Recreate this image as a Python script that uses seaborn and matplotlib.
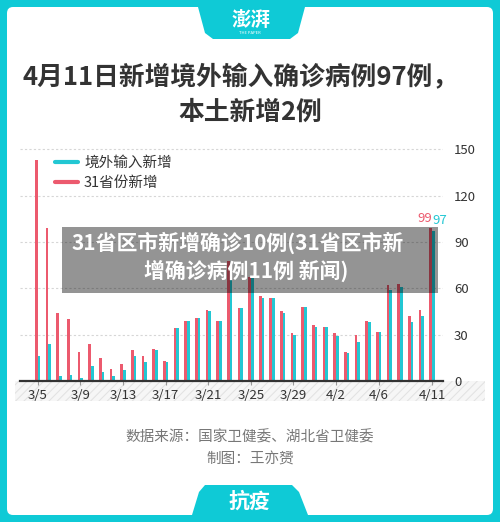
import pandas as pd
import matplotlib
matplotlib.use("Agg")
import matplotlib.pyplot as plt
import seaborn as sns
from matplotlib.patches import Rectangle, Polygon, FancyBboxPatch
from matplotlib.lines import Line2D

# daily new cases, 3/5 .. 4/11
dates = ["3/5", "3/6", "3/7", "3/8", "3/9", "3/10", "3/11", "3/12", "3/13", "3/14",
         "3/15", "3/16", "3/17", "3/18", "3/19", "3/20", "3/21", "3/22", "3/23", "3/24",
         "3/25", "3/26", "3/27", "3/28", "3/29", "3/30", "3/31", "4/1", "4/2", "4/3",
         "4/4", "4/5", "4/6", "4/7", "4/8", "4/9", "4/10", "4/11"]
province_new = [143, 99, 44, 40, 19, 24, 15, 8, 11, 20,
                16, 21, 13, 34, 39, 41, 46, 39, 78, 47,
                67, 55, 54, 45, 31, 48, 36, 35, 31, 19,
                30, 39, 32, 62, 63, 42, 46, 99]
imported_new = [16, 24, 3, 4, 2, 10, 6, 3, 7, 16,
                12, 20, 12, 34, 39, 41, 45, 39, 74, 47,
                67, 54, 54, 44, 30, 48, 35, 35, 29, 18,
                25, 38, 32, 59, 61, 38, 42, 97]
tick_labels = ["3/5", "3/9", "3/13", "3/17", "3/21", "3/25", "3/29", "4/2", "4/6", "4/11"]
y_ticks = [0, 30, 60, 90, 120, 150]

S_PROV = "31省份新增"
S_IMP = "境外输入新增"

TEAL = "#0fcad6"
RED = "#ec5a6e"
CYAN = "#22c7d3"

sns.set_theme(style="white")
plt.rcParams["font.family"] = ["Noto Sans CJK SC", "DejaVu Sans"]
plt.rcParams["hatch.linewidth"] = 0.8

df = pd.DataFrame({
    "date": dates * 2,
    "value": province_new + imported_new,
    "series": [S_PROV] * len(dates) + [S_IMP] * len(dates),
})


def fx(px):
    return px / 500


def fy(py):
    return 1 - py / 522


fig = plt.figure(figsize=(5, 5.22), dpi=100)
fig.patch.set_facecolor(TEAL)

# white card + tabs
fig.add_artist(FancyBboxPatch((fx(7), fy(515)), fx(493) - fx(7), fy(7) - fy(515),
                              boxstyle="round,pad=0,rounding_size=0.012",
                              transform=fig.transFigure, fc="white", ec="none", zorder=-3))
top_tab = [(198, 7), (305, 7), (298, 33), (290, 39), (213, 39), (205, 33)]
fig.add_artist(Polygon([(fx(x), fy(y)) for x, y in top_tab], closed=True,
                       transform=fig.transFigure, fc=TEAL, ec="none", zorder=-2))
bot_tab = [(205, 485), (292, 485), (299, 492), (308, 515), (192, 515), (199, 492)]
fig.add_artist(Polygon([(fx(x), fy(y)) for x, y in bot_tab], closed=True,
                       transform=fig.transFigure, fc=TEAL, ec="none", zorder=-2))
fig.text(fx(251), fy(20), "澎湃", color="white", fontsize=14, fontweight="bold",
         ha="center", va="center", style="italic")
fig.text(fx(250), fy(33), "THE PAPER", color="white", fontsize=3, ha="center", va="center")
fig.text(fx(249), fy(501), "抗疫", color="white", fontsize=15, fontweight="bold",
         ha="center", va="center")

# title
fig.text(fx(241), fy(78), "4月11日新增境外输入确诊病例97例，", color="#333333",
         fontsize=18.5, fontweight="bold", ha="center", va="center")
fig.text(fx(250), fy(112), "本土新增2例", color="#333333",
         fontsize=18.5, fontweight="bold", ha="center", va="center")

# hatched strip under the x axis
fig.add_artist(Rectangle((fx(15), fy(401)), fx(485) - fx(15), (401 - 381) / 522,
                         transform=fig.transFigure, fc="#f6f6f6", ec="#e3e3e3",
                         hatch="////", lw=0, zorder=-1))

ax = fig.add_axes([fx(20), fy(381), fx(443) - fx(20), (381 - 140) / 522])
ax.set_facecolor("none")
sns.barplot(data=df, x="date", y="value", hue="series", order=dates,
            hue_order=[S_PROV, S_IMP], palette=[RED, CYAN], width=0.5,
            saturation=1, legend=False, ax=ax, zorder=2,
            edgecolor="none", linewidth=0)

ax.set_xlim(-1.66, len(dates) - 1 + 1.03)
ax.set_ylim(0, 156)
ax.set_xlabel("")
ax.set_ylabel("")

ax.yaxis.tick_right()
ax.set_yticks(y_ticks)
ax.set_yticklabels([str(v) for v in y_ticks])
ax.tick_params(axis="y", length=0, pad=8, labelsize=9.5, labelcolor="#333333")
ax.grid(axis="y", color="#d6d6d6", lw=0.8, ls=(0, (2, 2)))
ax.set_axisbelow(True)

ax.set_xticks([dates.index(t) for t in tick_labels])
ax.set_xticklabels(tick_labels)
ax.tick_params(axis="x", bottom=True, length=3, width=0.8, color="#999999",
               pad=3, labelsize=9.5, labelcolor="#333333")

for side in ["left", "right", "top"]:
    ax.spines[side].set_visible(False)
ax.spines["bottom"].set_color("#333333")
ax.spines["bottom"].set_linewidth(1.6)

last = len(dates) - 1
ax.text(last, province_new[-1] + 2, str(province_new[-1]), color=RED,
        ha="right", va="bottom", fontsize=9.5)
ax.text(last, imported_new[-1] + 3, str(imported_new[-1]), color=CYAN,
        ha="left", va="bottom", fontsize=9.5)

handles = [Line2D([], [], color=CYAN, lw=3), Line2D([], [], color=RED, lw=3)]
ax.legend(handles, [S_IMP, S_PROV], loc="upper left", frameon=False,
          bbox_to_anchor=(fx(49), fy(150)), bbox_transform=fig.transFigure,
          fontsize=10.5, handlelength=1.6, handletextpad=0.4, labelspacing=0.45,
          borderaxespad=0, labelcolor="#333333")

# grey banner laid over the chart
fig.add_artist(Rectangle((fx(62), fy(293)), fx(438) - fx(62), (293 - 227) / 522,
                         transform=fig.transFigure, fc="black", alpha=0.42,
                         ec="none", zorder=5))
fig.text(fx(238), fy(243), "31省区市新增确诊10例(31省区市新", color="white",
         fontsize=15, fontweight="bold", ha="center", va="center", zorder=6)
fig.text(fx(246), fy(271), "增确诊病例11例 新闻)", color="white",
         fontsize=15, fontweight="bold", ha="center", va="center", zorder=6)

# source
fig.text(fx(250), fy(437), "数据来源：国家卫健委、湖北省卫健委", color="#777777",
         fontsize=10.5, ha="center", va="center")
fig.text(fx(250), fy(460), "制图：王亦赟", color="#777777",
         fontsize=10.5, ha="center", va="center")

fig.savefig("out.png", dpi=100, facecolor=fig.get_facecolor())
